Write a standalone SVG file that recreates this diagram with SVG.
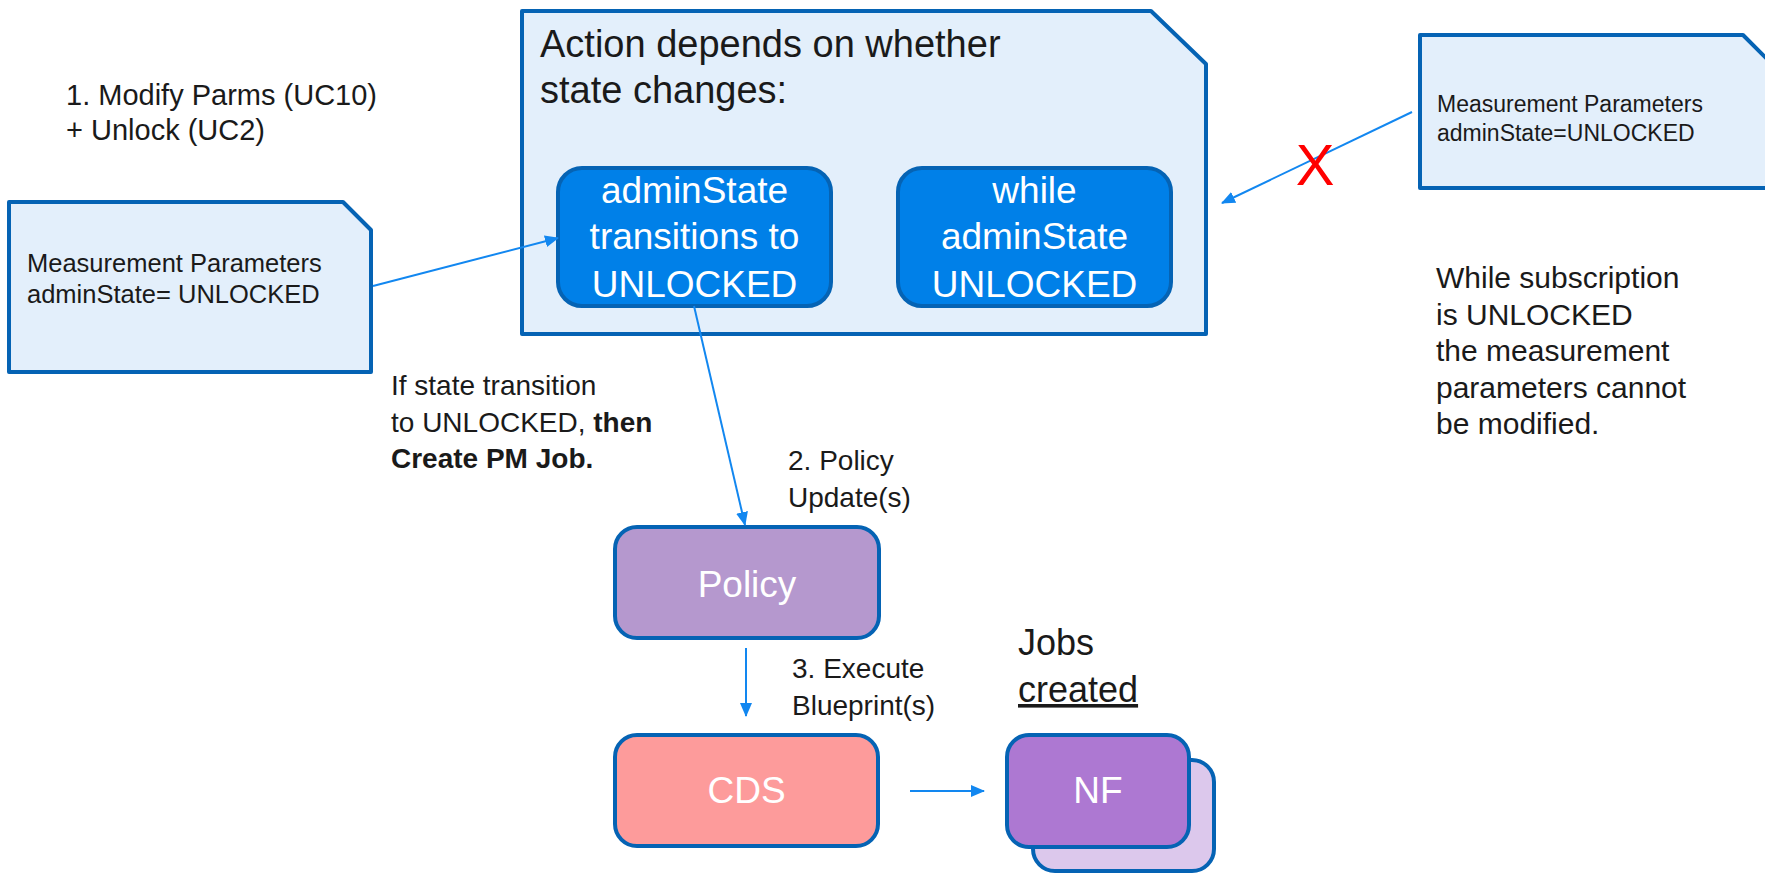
<svg xmlns="http://www.w3.org/2000/svg" width="1765" height="874" viewBox="0 0 1765 874">
<defs>
<marker id="ah" markerWidth="14" markerHeight="12" refX="13" refY="6" orient="auto" markerUnits="userSpaceOnUse"><path d="M0,0 L14,6 L0,12 z" fill="#1287f0"/></marker>
<style>
text{font-family:"Liberation Sans",Arial,sans-serif;}
.note{fill:#e3effb;stroke:#0563b4;stroke-width:4;stroke-linejoin:round}
.box{stroke:#0563b4;stroke-width:4}
.w{fill:#ffffff;text-anchor:middle;font-size:37px}
.t{fill:#1a1a1a}
.c{stroke:#1287f0;stroke-width:2;fill:none;marker-end:url(#ah)}
</style>
</defs>
<rect x="0" y="0" width="1765" height="874" fill="#ffffff"/>

<g id="label-modify">
<text class="t" x="66" y="105" font-size="29">1. Modify Parms (UC10)</text>
<text class="t" x="66" y="140" font-size="29">+ Unlock (UC2)</text>
</g>

<g id="note-left">
<path class="note" d="M9,202 H343 L371,230 V372 H9 Z"/>
<text class="t" x="27" y="272" font-size="25.5">Measurement Parameters</text>
<text class="t" x="27" y="303" font-size="25.5">adminState= UNLOCKED</text>
</g>

<g id="note-action">
<path class="note" d="M522,11 H1151 L1206,64 V334 H522 Z"/>
<text class="t" x="540" y="57" font-size="38">Action depends on whether</text>
<text class="t" x="540" y="103" font-size="38">state changes:</text>
</g>

<g id="box-transition">
<rect class="box" x="558" y="168" width="273" height="138" rx="24" fill="#0080e8"/>
<text class="w" x="694.5" y="203">adminState</text>
<text class="w" x="694.5" y="249">transitions to</text>
<text class="w" x="694.5" y="297">UNLOCKED</text>
</g>

<g id="box-while">
<rect class="box" x="898" y="168" width="273" height="138" rx="24" fill="#0080e8"/>
<text class="w" x="1034.5" y="203">while</text>
<text class="w" x="1034.5" y="249">adminState</text>
<text class="w" x="1034.5" y="297">UNLOCKED</text>
</g>

<g id="note-right">
<path class="note" d="M1420,35 H1743 L1790,82 V188 H1420 Z"/>
<text class="t" x="1437" y="112" font-size="23">Measurement Parameters</text>
<text class="t" x="1437" y="141" font-size="23">adminState=UNLOCKED</text>
</g>

<g id="label-while">
<text class="t" x="1436" y="288" font-size="30">While subscription</text>
<text class="t" x="1436" y="325" font-size="30">is UNLOCKED</text>
<text class="t" x="1436" y="361" font-size="30">the measurement</text>
<text class="t" x="1436" y="398" font-size="30">parameters cannot</text>
<text class="t" x="1436" y="434" font-size="30">be modified.</text>
</g>

<g id="label-if">
<text class="t" x="391" y="395" font-size="28">If state transition</text>
<text class="t" x="391" y="432" font-size="28">to UNLOCKED, <tspan font-weight="bold">then</tspan></text>
<text class="t" x="391" y="468" font-size="28" font-weight="bold">Create PM Job.</text>
</g>

<g id="label-policy-update">
<text class="t" x="788" y="470" font-size="28">2. Policy</text>
<text class="t" x="788" y="507" font-size="28">Update(s)</text>
</g>

<g id="box-policy">
<rect class="box" x="615" y="527" width="264" height="111" rx="22" fill="#b598ce"/>
<text class="w" x="747" y="597">Policy</text>
</g>

<g id="label-execute">
<text class="t" x="792" y="678" font-size="28">3. Execute</text>
<text class="t" x="792" y="715" font-size="28">Blueprint(s)</text>
</g>

<g id="box-cds">
<rect class="box" x="615" y="735" width="263" height="111" rx="22" fill="#fd9b9b"/>
<text class="w" x="746.5" y="803">CDS</text>
</g>

<g id="label-jobs">
<text class="t" x="1018" y="655" font-size="36">Jobs</text>
<text class="t" x="1018" y="702" font-size="36" text-decoration="underline">created</text>
</g>

<g id="box-nf">
<rect class="box" x="1033" y="760" width="181" height="111" rx="22" fill="#dcc8ec"/>
<rect class="box" x="1007" y="735" width="182" height="112" rx="22" fill="#ad78d2"/>
<text class="w" x="1098" y="803">NF</text>
</g>

<g id="connectors">
<line class="c" x1="373" y1="286" x2="558" y2="238"/>
<line class="c" x1="1412" y1="112" x2="1222" y2="203"/>
<line class="c" x1="694" y1="306" x2="745" y2="525"/>
<line class="c" x1="746" y1="648" x2="746" y2="716"/>
<line class="c" x1="910" y1="791" x2="984" y2="791"/>
<text x="1315" y="185" font-size="58" fill="#ff0000" text-anchor="middle">X</text>
</g>
</svg>
